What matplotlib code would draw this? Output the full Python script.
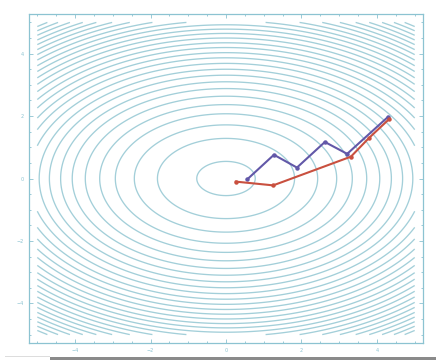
import numpy as np
import matplotlib.pyplot as plt
from matplotlib.patches import Rectangle
from matplotlib.ticker import MultipleLocator

# cost surface f(x, y) = cx*x^2 + cy*y^2, read from the ring spacing
cx = 1.0
cy = 2.0
grid_lim = 5.0
levels = [0.6, 3.3, 5.9, 8.6, 11.2, 13.9, 16.6, 19.2, 21.9, 24.5, 27.2,
          29.9, 32.5, 35.2, 37.8, 40.5, 43.2, 45.8, 48.5, 51.1, 53.8,
          56.5, 59.1, 61.8, 64.4, 67.1, 69.8, 72.4, 75.0]

# oscillating path (purple)
path1_x = [4.29, 3.21, 2.62, 1.88, 1.27, 0.56]
path1_y = [1.97, 0.79, 1.17, 0.35, 0.76, -0.03]

# smoother path (red)
path2_x = [4.32, 3.79, 3.31, 1.25, 0.26]
path2_y = [1.90, 1.30, 0.70, -0.22, -0.10]

ticks = [-4, -2, 0, 2, 4]

frame_col = '#8cc3d1'
contour_col = '#a3cfd9'

fig = plt.figure(figsize=(4.36, 3.6), dpi=100)
ax = fig.add_axes([29 / 436, 17 / 360, 394 / 436, 329 / 360])

xs = np.linspace(-grid_lim, grid_lim, 400)
ys = np.linspace(-grid_lim, grid_lim, 400)
X, Y = np.meshgrid(xs, ys)
Z = cx * X**2 + cy * Y**2
ax.contour(X, Y, Z, levels=levels, colors=contour_col, linewidths=0.95)

ax.plot(path1_x, path1_y, color='#6258a8', lw=1.5, marker='o', ms=2.2)
ax.plot(path2_x, path2_y, color='#c9503f', lw=1.5, marker='o', ms=2.2)

ax.set_xlim(-5.22, 5.22)
ax.set_ylim(-5.27, 5.27)
ax.set_xticks(ticks)
ax.set_yticks(ticks)
ax.xaxis.set_minor_locator(MultipleLocator(0.5))
ax.yaxis.set_minor_locator(MultipleLocator(0.5))
ax.tick_params(which='both', direction='in', top=True, right=True,
               colors=frame_col, labelsize=3.5, width=0.6)
ax.tick_params(which='major', length=3)
ax.tick_params(which='minor', length=1.5)
for s in ax.spines.values():
    s.set_color(frame_col)
    s.set_linewidth(0.9)

# screenshot shadow along the bottom edge
fig.add_artist(Rectangle((50 / 436, 0), 386 / 436, 3 / 360,
                         transform=fig.transFigure, color='#8a8a8a', lw=0))
fig.add_artist(Rectangle((5 / 436, 3 / 360), 45 / 436, 1 / 360,
                         transform=fig.transFigure, color='#dddddd', lw=0))

fig.savefig('out.png', dpi=100)
